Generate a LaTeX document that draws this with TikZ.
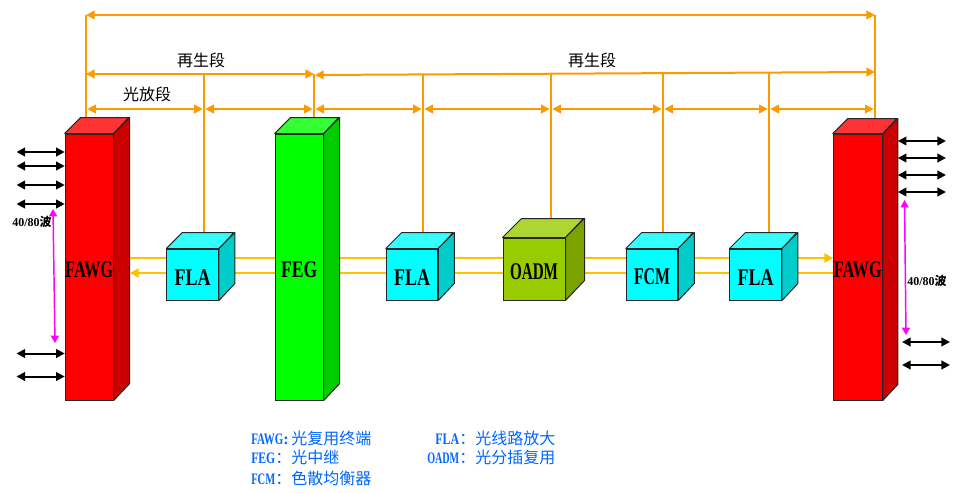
\documentclass[tikz,border=0pt]{standalone}
\usepackage{graphicx}
\usepackage{fontspec}
\setmainfont{Liberation Serif}
\newfontfamily\cjkfont{Noto Sans CJK SC}
\usetikzlibrary{arrows.meta,positioning,calc}
\definecolor{spanOrange}{HTML}{FF9900}
\definecolor{lineYellow}{HTML}{FFC000}
\definecolor{legendBlue}{HTML}{0066FF}
\definecolor{oadmGreen}{HTML}{99CC00}
\definecolor{unitRed}{RGB}{255,0,0}
\definecolor{unitGreen}{RGB}{0,255,0}
\definecolor{unitCyan}{RGB}{0,255,255}
\definecolor{waveMagenta}{RGB}{255,0,255}
% latin letters are half width in the drawing
\newcommand{\fitword}[2]{\resizebox{#1pt}{\height}{#2}}
% front face is the node, top and side are filled behind it
\newcommand{\unitbox}[9]{%
  \node[unit,fill=#7,minimum width=#4*0.75pt,minimum height=#5*0.75pt] (#1) at (#2,#3) {};
  \filldraw[unit edge,fill=#7!80!white] (#1.north west) -- ++(#6,-#6) -- ++(#4,0) -- ($(#1.north east)$) -- cycle;
  \filldraw[unit edge,fill=#7!80!black] (#1.north east) -- ++(#6,-#6) -- ++(0,#5) -- (#1.south east) -- cycle;
  \node[unit text,#9] (#1text) at (#1) {#8};
}
\begin{document}
\begin{tikzpicture}[x=0.75pt,y=-0.75pt]
    \tikzset{unit/.style={draw=black!85,line width=0.75pt,inner sep=0pt},
      unit edge/.style={draw=black!85,line width=0.75pt,line join=round},
      unit text/.style={font=\bfseries\fontsize{18pt}{18pt}\selectfont,inner sep=0pt},
      span/.style={{Triangle[length=6.5pt,width=6.5pt]}-{Triangle[length=6.5pt,width=6.5pt]},spanOrange,line width=1.5pt},
      tap/.style={spanOrange,line width=1.5pt},
      signal/.style={lineYellow,line width=1.5pt,-{Triangle[length=6.5pt,width=7pt]}},
      client/.style={{Triangle[length=6.5pt,width=6.5pt]}-{Triangle[length=6.5pt,width=6.5pt]},black,line width=1.5pt},
      wave/.style={{Triangle[length=5.5pt,width=6pt]}-{Triangle[length=5.5pt,width=6pt]},waveMagenta,line width=1.1pt},
      caption/.style={font=\cjkfont\fontsize{12pt}{12pt}\selectfont,inner sep=0pt},
      count/.style={font=\bfseries\fontsize{9pt}{9pt}\selectfont,inner sep=0pt},
      legend/.style={font=\bfseries\fontsize{12pt}{12pt}\selectfont,text=legendBlue,inner sep=0pt,anchor=west}}
    \useasboundingbox (0,0) rectangle (955,492);

    \coordinate (sigA) at (129,258);
    \coordinate (sigB) at (833,258);
    \coordinate (sigC) at (833,273);
    \coordinate (sigD) at (130,273);
    \draw[signal] (sigA) -- (sigB);
    \draw[signal] (sigC) -- (sigD);

    \foreach \n/\x in {a/86,b/204,c/314,d/423,e/551,f/663,g/769,h/875}{
      \coordinate (low\n) at (\x,109);
    }
    \foreach \n/\x/\y in {b/204/74,c/314/74,d/423/73.5,e/551/73,f/663/73,g/769/73}{
      \coordinate (high\n) at (\x,\y);
    }
    \coordinate (topa) at (86,15);
    \coordinate (toph) at (875,15);
    \coordinate (leva) at (86,74);
    \coordinate (levc) at (315,75);
    \coordinate (levh) at (875,72);

    % risers into the boxes
    \coordinate (foota) at (86,118);
    \coordinate (footb) at (204,233);
    \coordinate (footc) at (314,118);
    \coordinate (footd) at (423,233);
    \coordinate (foote) at (551,218);
    \coordinate (footf) at (663,233);
    \coordinate (footg) at (769,233);
    \coordinate (footh) at (875,118);
    \draw[tap] (topa) -- (foota);
    \draw[tap] (toph) -- (footh);
    \foreach \n in {b,c,d,e,f,g}{
      \draw[tap] (high\n) -- (foot\n);
    }

    \draw[span] (topa) -- (toph);
    \draw[span] (leva) -- (highc);
    \draw[span] (levc) -- (levh);
    \foreach \p/\q in {a/b,b/c,c/d,d/e,e/f,f/g,g/h}{
      \draw[span,shorten <=1pt,shorten >=1pt] (low\p) -- (low\q);
    }

    \unitbox{fawgL}{89.2}{267}{48}{266}{16}{unitRed}{\fitword{36}{FAWG}}{yshift=-2pt}
    \unitbox{flaA}{192.7}{274.5}{51.5}{51}{16}{unitCyan}{\fitword{27}{FLA}}{yshift=-2pt}
    \unitbox{feg}{299.2}{267}{48}{266}{16}{unitGreen}{\fitword{27}{FEG}}{yshift=-2pt}
    \unitbox{flaB}{412}{274.5}{51.5}{51}{16}{unitCyan}{\fitword{27}{FLA}}{yshift=-2pt}
    \unitbox{oadm}{534}{269}{62}{62}{19}{oadmGreen}{\fitword{36}{OADM}}{yshift=-2pt}
    \unitbox{fcm}{652}{274.5}{51.5}{51}{16}{unitCyan}{\fitword{27}{FCM}}{yshift=-2pt}
    \unitbox{flaC}{755.7}{274.5}{51.5}{51}{16}{unitCyan}{\fitword{27}{FLA}}{yshift=-2pt}
    \unitbox{fawgR}{857.8}{267}{49}{266}{15}{unitRed}{\fitword{36}{FAWG}}{yshift=-2pt}

    \node[caption] (regenA) at (201,60) {再生段};
    \node[caption] (regenB) at (592,60) {再生段};
    \node[caption] (ampspan) at (147,94) {光放段};

    \foreach \n/\y in {a/152,b/166,c/185,d/204,e/353.5,f/376.5}{
      \coordinate (cl\n) at (16.5,\y);
      \draw[client] (cl\n) -- (cl\n -| fawgL.west);
    }
    \foreach \n/\y in {a/141,b/158,c/175,d/192}{
      \coordinate (cr\n) at (946,\y);
      \draw[client] (fawgR.east |- cr\n) ++(15,0) -- (cr\n);
    }
    \foreach \n/\y in {e/342,f/365}{
      \coordinate (crs\n) at (902,\y);
      \coordinate (cre\n) at (950,\y);
      \draw[client] (crs\n) -- (cre\n);
    }

    \coordinate (waveA) at (53,209);
    \coordinate (waveB) at (55,343);
    \coordinate (waveC) at (904.5,200);
    \coordinate (waveD) at (906,335);
    \draw[wave] (waveA) -- (waveB);
    \draw[wave] (waveC) -- (waveD);
    \node[count] (countL) at (32,222) {40/80{\cjkfont 波}};
    \node[count] (countR) at (927,281) {40/80{\cjkfont 波}};

    \node[legend] (legFawg) at (251,438) {\fitword{24}{FAWG}\makebox[6pt][l]{:}{\cjkfont\mdseries 光复用终端}};
    \node[legend] (legFeg) at (251,457) {\fitword{18}{FEG}{\cjkfont\mdseries ：光中继}};
    \node[legend] (legFcm) at (251,478) {\fitword{18}{FCM}{\cjkfont\mdseries ：色散均衡器}};
    \node[legend] (legFla) at (435,438) {\fitword{18}{FLA}{\cjkfont\mdseries ：光线路放大}};
    \node[legend] (legOadm) at (427,457) {\fitword{24}{OADM}{\cjkfont\mdseries ：光分插复用}};
\end{tikzpicture}
\end{document}
